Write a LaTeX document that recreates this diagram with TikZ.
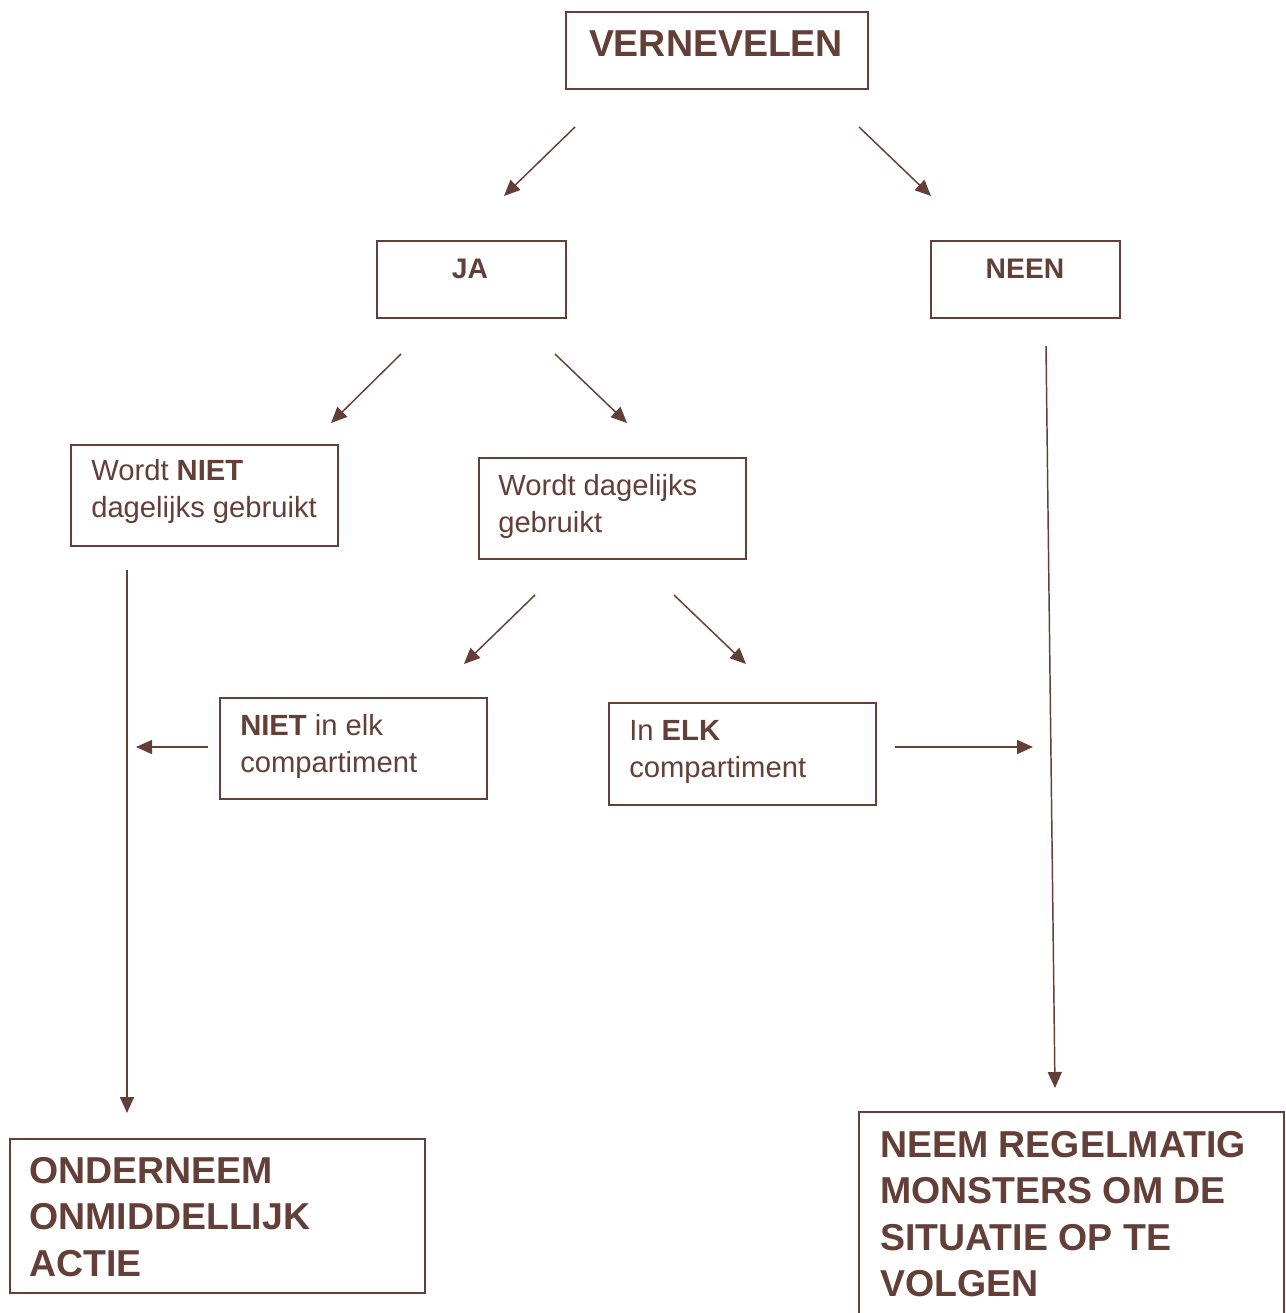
\documentclass[tikz,border=0pt]{standalone}
\usepackage{fontspec}
\setmainfont{Liberation Sans}
\usetikzlibrary{arrows.meta,fit}
\definecolor{brn}{RGB}{99,63,56}
\begin{document}
\begin{tikzpicture}[x=0.75pt,y=-0.75pt,
  box/.style={draw=brn,line width=0.9pt,inner sep=0pt,rectangle},
  small/.style={text=brn,inner sep=0pt,anchor=north west,align=left,font=\fontsize{21.9}{27.75}\selectfont},
  big/.style={text=brn,inner sep=0pt,anchor=north west,align=left,font=\fontsize{28.1}{34.8}\selectfont\bfseries},
  arr/.style={draw=brn,line width=1.1pt,-{Triangle[length=12pt,width=10.5pt]}}]
\clip (0,0) rectangle (1285,1313);
\useasboundingbox (0,0) rectangle (1285,1313);
% boxes
\node[box,fit={(566,12) (868,89)}] (verbox) {};
\node[box,fit={(377,241) (566,318)}] (jabox) {};
\node[box,fit={(931,241) (1120,318)}] (neenbox) {};
\node[box,fit={(71,445) (338,546)}] (nietbox) {};
\node[box,fit={(479,458) (746,559)}] (dagbox) {};
\node[box,fit={(220,698) (487,799)}] (nietelkbox) {};
\node[box,fit={(609,703) (876,805)}] (elkbox) {};
\node[box,fit={(10,1139) (425,1293)}] (actiebox) {};
\node[box,fit={(859,1112) (1284,1330)}] (neembox) {};
% texts
\node[text=brn,inner sep=0pt,anchor=base,font=\fontsize{28.1}{34.8}\selectfont\bfseries] (ver) at (716,57) {VERNEVELEN};
\node[text=brn,inner sep=0pt,anchor=base,font=\fontsize{21.2}{27}\selectfont\bfseries] (ja) at (470,278) {JA};
\node[text=brn,inner sep=0pt,anchor=base,font=\fontsize{21.2}{27}\selectfont\bfseries] (neen) at (1025,278) {NEEN};
\node[small] (niet) at (91,459) {Wordt \textbf{NIET}\\dagelijks gebruikt};
\node[small] (dag) at (498,474) {Wordt dagelijks\\gebruikt};
\node[small] (nietelk) at (240,714) {\textbf{NIET} in elk\\compartiment};
\node[small] (elk) at (629,720) {In \textbf{ELK}\\compartiment};
\node[big] (actie) at (29,1157) {ONDERNEEM\\ONMIDDELLIJK\\ACTIE};
\node[big] (neem) at (880,1131) {NEEM REGELMATIG\\MONSTERS OM DE\\SITUATIE OP TE\\VOLGEN};
% arrow endpoints
\coordinate (a1s) at (575,127); \coordinate (a1e) at (504,196);
\coordinate (a2s) at (859,127); \coordinate (a2e) at (931,196);
\coordinate (a3s) at (401,354); \coordinate (a3e) at (331,423);
\coordinate (a4s) at (555,354); \coordinate (a4e) at (627,423);
\coordinate (a5s) at (1046,346); \coordinate (a5e) at (1055,1088);
\coordinate (a6s) at (127,570); \coordinate (a6e) at (127,1113);
\coordinate (a7s) at (535,595); \coordinate (a7e) at (464,664);
\coordinate (a8s) at (674,595); \coordinate (a8e) at (746,664);
\coordinate (a9s) at (208,747); \coordinate (a9e) at (136,747);
\coordinate (a10s) at (895,747); \coordinate (a10e) at (1033,747);
\draw[arr] (a1s) -- (a1e);
\draw[arr] (a2s) -- (a2e);
\draw[arr] (a3s) -- (a3e);
\draw[arr] (a4s) -- (a4e);
\draw[arr] (a5s) -- (a5e);
\draw[arr] (a6s) -- (a6e);
\draw[arr] (a7s) -- (a7e);
\draw[arr] (a8s) -- (a8e);
\draw[arr] (a9s) -- (a9e);
\draw[arr] (a10s) -- (a10e);
\end{tikzpicture}
\end{document}
